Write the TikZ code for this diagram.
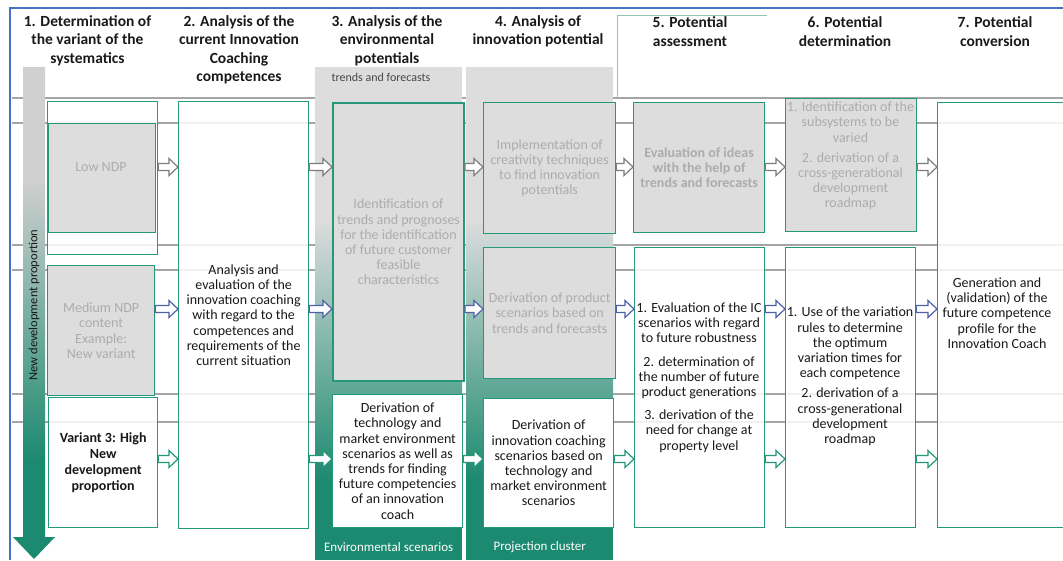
\documentclass[tikz,border=0pt]{standalone}
\usepackage{fontspec}
\setmainfont{Carlito}
\usetikzlibrary{calc}
\definecolor{tealc}{RGB}{38,152,122}
\definecolor{tealf}{RGB}{28,138,112}
\definecolor{grayf}{RGB}{221,221,221}
\definecolor{grayb}{RGB}{208,208,208}
\definecolor{grayt}{RGB}{172,172,172}
\definecolor{linec}{RGB}{165,165,165}
\definecolor{framec}{RGB}{68,114,196}
\definecolor{arrblue}{RGB}{78,98,170}
\definecolor{arrgray}{RGB}{125,125,125}
\definecolor{hdrline}{RGB}{150,195,180}
\definecolor{txtc}{RGB}{25,25,25}
\begin{document}
\begin{tikzpicture}[x=1pt,y=-1pt,
  hdr/.style={font=\fontsize{15.5}{18.5}\selectfont\bfseries, align=center, inner sep=0pt, text=txtc},
  body/.style={font=\fontsize{14}{15.2}\selectfont, align=center, inner sep=0pt, text=txtc},
  gtext/.style={font=\fontsize{14}{15.2}\selectfont, align=center, inner sep=0pt, text=grayt},
  wbox/.style={draw=tealc, line width=1.3pt, fill=white, fill opacity=0.85, text opacity=1, inner sep=0pt, anchor=north west, align=center},
  wboxo/.style={draw=tealc, line width=1.3pt, fill=white, inner sep=0pt, anchor=north west, align=center},
  gbox/.style={draw=tealc, line width=1.3pt, fill=grayf, inner sep=0pt, anchor=north west, align=center},
  lab/.style={fill=tealf, text=white, font=\fontsize{13}{15}\selectfont, inner sep=0pt, anchor=north west},
  blockarr/.style={draw=#1, fill=white, line width=1.2pt, line join=miter,
    to path={([yshift=3.5pt]\tikztostart) -- ([xshift=-9pt,yshift=3.5pt]\tikztotarget)
      -- ([xshift=-9pt,yshift=8.5pt]\tikztotarget) -- (\tikztotarget)
      -- ([xshift=-9pt,yshift=-8.5pt]\tikztotarget) -- ([xshift=-9pt,yshift=-3.5pt]\tikztotarget)
      -- ([yshift=-3.5pt]\tikztostart) -- cycle}}
]
\useasboundingbox (0,0) rectangle (1063,560);
\fill[white] (0,0) rectangle (1063,560);

% background table lines
\foreach \yy in {98,123,245,270,394,422}
  \draw[linec, line width=1.2pt] (12,\yy) -- (1063,\yy);

% column backgrounds (3 and 4)
\foreach \xa/\xb in {315/462, 466/613}{
  \fill[grayf] (\xa,67) rectangle (\xb,220);
  \shade[top color=grayf, bottom color=tealf] (\xa,219.5) rectangle (\xb,480.5);
  \fill[tealf] (\xa,480) rectangle (\xb,560);
}

% left vertical arrow
\begin{scope}
  \clip (23,67) -- (45,67) -- (45,537) -- (55,537) -- (34,559) -- (13,537) -- (23,537) -- cycle;
  \fill[grayb] (0,67) rectangle (60,180);
  \shade[top color=grayb, bottom color=tealf] (0,179.5) rectangle (60,460.5);
  \fill[tealf] (0,460) rectangle (60,560);
\end{scope}
\node[rotate=90, font=\fontsize{12.5}{14}\selectfont, text=txtc, inner sep=0pt] (vt) at (34,305) {New development proportion};

% outer frame
\draw[framec, line width=1.5pt] (10,560) -- (10,8) -- (1063,8);
% header 5 frame
\draw[hdrline, line width=0.9pt] (617,98) -- (617,15) -- (767,15);

% headers
\node[hdr] (h1) at (87.5,40.5) {1. Determination of\\the variant of the\\systematics};
\node[hdr] (h2) at (239,50) {2. Analysis of the\\current Innovation\\Coaching\\competences};
\node[hdr] (h3) at (387,40.5) {3. Analysis of the\\environmental\\potentials};
\node[font=\fontsize{12}{14}\selectfont, text=txtc!80, inner sep=0pt] (h3s) at (381,77) {trends and forecasts};
\node[hdr] (h4) at (538,31.5) {4. Analysis of\\innovation potential};
\node[hdr] (h5) at (690,31.5) {5. Potential\\assessment};
\node[hdr] (h6) at (845,31.5) {6. Potential\\determination};
\node[hdr] (h7) at (995,31.5) {7. Potential\\conversion};

% column 1
\node[wbox, minimum width=110pt, minimum height=153pt] (c11) at (47,101) {};
\node[gbox, line width=0.8pt, minimum width=107pt, minimum height=109pt] (c11g) at (48,123) {};
\node[gtext] (t11) at (101,167) {Low NDP};
\node[gbox, minimum width=107pt, minimum height=130pt, text=grayt, font=\fontsize{14}{15.2}\selectfont] (c12) at (47,265) {Medium NDP\\content\\Example:\\New variant};
\node[wbox, minimum width=109pt, minimum height=130pt, text=txtc, font=\fontsize{14}{16.3}\selectfont\bfseries] (c13) at (48,397) {Variant 3: High\\New\\development\\proportion};

% column 2
\node[wbox, minimum width=130pt, minimum height=427pt, text=txtc, font=\fontsize{14}{15.2}\selectfont] (c2) at (178,101) {Analysis and\\evaluation of the\\innovation coaching\\with regard to the\\competences and\\requirements of the\\current situation};

% column 3
\node[gbox, line width=2pt, minimum width=131pt, minimum height=278pt, text=grayt, font=\fontsize{14}{15.2}\selectfont] (c3a) at (332,102) {Identification of\\trends and prognoses\\for the identification\\of future customer\\feasible\\characteristics};
\node[wboxo, minimum width=130pt, minimum height=133pt, text=txtc, font=\fontsize{14}{15.2}\selectfont] (c3b) at (332,394) {Derivation of\\technology and\\market environment\\scenarios as well as\\trends for finding\\future competencies\\of an innovation\\coach};

% column 4
\node[gbox, minimum width=132pt, minimum height=131pt, text=grayt, font=\fontsize{14}{15.2}\selectfont] (c4a) at (483,102) {Implementation of\\creativity techniques\\to find innovation\\potentials};
\node[gbox, minimum width=132pt, minimum height=131pt, text=grayt, font=\fontsize{14}{15.2}\selectfont] (c4b) at (483,247) {Derivation of product\\scenarios based on\\trends and forecasts};
\node[wboxo, minimum width=130pt, minimum height=129pt, text=txtc, font=\fontsize{14}{15.2}\selectfont] (c4c) at (483,398) {Derivation of\\innovation coaching\\scenarios based on\\technology and\\market environment\\scenarios};

% column 5
\node[gbox, minimum width=131pt, minimum height=130pt, text=grayt, font=\fontsize{14}{15.2}\selectfont\bfseries] (c5a) at (633,102) {Evaluation of ideas\\with the help of\\trends and forecasts};
\node[wbox, minimum width=130pt, minimum height=280pt] (c5b) at (634,247) {};
\node[body] (t5b) at (699,377.5) {1. Evaluation of the IC\\scenarios with regard\\to future robustness\\[8pt]2. determination of\\the number of future\\product generations\\[8pt]3. derivation of the\\need for change at\\property level};

% column 6
\node[gbox, minimum width=131pt, minimum height=133pt] (c6a) at (785,98) {};
\node[gtext] (t6a) at (850.5,156) {1. Identification of the\\subsystems to be\\varied\\[5pt]2. derivation of a\\cross-generational\\development\\roadmap};
\node[wbox, minimum width=130pt, minimum height=280pt] (c6b) at (785,247) {};
\node[body] (t6b) at (850,376.5) {1. Use of the variation\\rules to determine\\the optimum\\variation times for\\each competence\\[5pt]2. derivation of a\\cross-generational\\development\\roadmap};

% column 7
\node[wbox, minimum width=140pt, minimum height=425pt] (c7) at (937,102) {};
\node[body] (t7) at (997,313) {Generation and\\(validation) of the\\future competence\\profile for the\\Innovation Coach};

% bottom labels
\node[lab, minimum width=147pt, minimum height=27pt] (env) at (315,533) {Environmental scenarios};
\node[lab, minimum width=147pt, minimum height=27pt] (proj) at (466,533) {Projection cluster};

% row coordinates
\coordinate (r1) at (0,167);
\coordinate (r2) at (0,309);
\coordinate (r3) at (0,459);

% row 1 arrows
\draw[blockarr=arrgray] (c11.east |- r1) to (c2.west |- r1);
\draw[blockarr=arrgray] (c2.east |- r1) to (c3a.west |- r1);
\draw[blockarr=arrgray] (c3a.east |- r1) to (c4a.west |- r1);
\draw[blockarr=arrgray] (c4a.east |- r1) to (c5a.west |- r1);
\draw[blockarr=arrgray] (c5a.east |- r1) to (c6a.west |- r1);
\draw[blockarr=arrgray] (c6a.east |- r1) to (c7.west |- r1);
% row 2 arrows
\draw[blockarr=arrblue] (c12.east |- r2) to (c2.west |- r2);
\draw[blockarr=arrblue] (c2.east |- r2) to (c3a.west |- r2);
\draw[blockarr=arrblue] (c3a.east |- r2) to (c4b.west |- r2);
\draw[blockarr=arrblue] (c4b.east |- r2) to (c5b.west |- r2);
\draw[blockarr=arrblue] (c5b.east |- r2) to (c6b.west |- r2);
\draw[blockarr=arrblue] (c6b.east |- r2) to (c7.west |- r2);
% row 3 arrows
\draw[blockarr=tealc] (c13.east |- r3) to (c2.west |- r3);
\draw[blockarr=tealc] (c2.east |- r3) to (c3b.west |- r3);
\draw[blockarr=tealc] (c3b.east |- r3) to (c4c.west |- r3);
\draw[blockarr=tealc] (c4c.east |- r3) to (c5b.west |- r3);
\draw[blockarr=tealc] (c5b.east |- r3) to (c6b.west |- r3);
\draw[blockarr=tealc] (c6b.east |- r3) to (c7.west |- r3);
\end{tikzpicture}
\end{document}
